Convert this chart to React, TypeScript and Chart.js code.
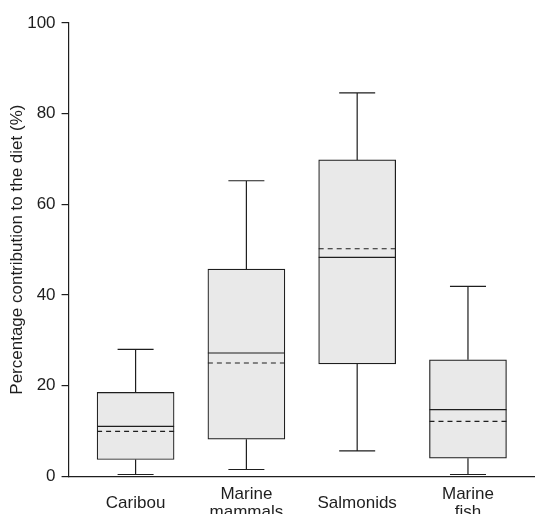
import { useEffect, useRef } from 'react';
import { Chart, registerables } from 'chart.js';

Chart.register(...registerables);

const categories: string[][] = [['Caribou'], ['Marine', 'mammals'], ['Salmonids'], ['Marine', 'fish']];
const whiskerLow = [0.4, 1.5, 5.6, 0.4];
const q1 = [3.7, 8.2, 24.8, 4.0];
const median = [11.0, 27.2, 48.3, 14.7];
const mean = [9.9, 25.0, 50.2, 12.1];
const q3 = [18.5, 45.7, 69.8, 25.7];
const whiskerHigh = [28.0, 65.2, 84.6, 41.9];
const yTickValues = [0, 20, 40, 60, 80, 100];
const yTitle = 'Percentage contribution to the diet (%)';

const INK = '#1e1e1e';
const FONT = "'Liberation Sans', Arial, Helvetica, sans-serif";
const BOX_W = 77;
const CAP_W = 36;

const boxExtras = {
  id: 'boxExtras',
  afterDatasetsDraw(chart: any) {
    const xs = chart.scales.x;
    const ys = chart.scales.y;
    const ctx = chart.ctx;
    ctx.save();
    ctx.strokeStyle = INK;
    ctx.lineWidth = 1.2;
    categories.forEach((_, i) => {
      const cx = xs.getPixelForValue(i + 1);
      const yLo = ys.getPixelForValue(whiskerLow[i]);
      const yQ1 = ys.getPixelForValue(q1[i]);
      const yQ3 = ys.getPixelForValue(q3[i]);
      const yHi = ys.getPixelForValue(whiskerHigh[i]);
      const yMed = ys.getPixelForValue(median[i]);
      const yMean = ys.getPixelForValue(mean[i]);
      ctx.setLineDash([]);
      ctx.beginPath();
      ctx.moveTo(cx, yQ3);
      ctx.lineTo(cx, yHi);
      ctx.moveTo(cx - CAP_W / 2, yHi);
      ctx.lineTo(cx + CAP_W / 2, yHi);
      ctx.moveTo(cx, yQ1);
      ctx.lineTo(cx, yLo);
      ctx.moveTo(cx - CAP_W / 2, yLo);
      ctx.lineTo(cx + CAP_W / 2, yLo);
      ctx.moveTo(cx - BOX_W / 2, yMed);
      ctx.lineTo(cx + BOX_W / 2, yMed);
      ctx.stroke();
      ctx.setLineDash([5, 4]);
      ctx.beginPath();
      ctx.moveTo(cx - BOX_W / 2, yMean);
      ctx.lineTo(cx + BOX_W / 2, yMean);
      ctx.stroke();
    });
    ctx.restore();
  },
};

export default function App() {
  const ref = useRef<HTMLCanvasElement>(null);
  useEffect(() => {
    document.body.style.margin = '0';
    const canvas = ref.current!;
    const chart = new Chart(canvas, {
      type: 'bar',
      data: {
        datasets: [
          {
            data: categories.map((_, i) => ({ x: i + 1, y: [q1[i], q3[i]] })) as any,
            backgroundColor: '#e9e9e9',
            borderColor: INK,
            borderWidth: 1.2,
            borderSkipped: false,
            barThickness: BOX_W,
          },
        ],
      },
      options: {
        responsive: false,
        animation: false,
        events: [],
        layout: { padding: { top: 23, right: 0, bottom: 0, left: 0 } },
        plugins: { legend: { display: false }, tooltip: { enabled: false } },
        scales: {
          x: {
            type: 'linear',
            position: 'bottom',
            offset: false,
            min: 0.395,
            max: 4.605,
            grid: { display: false, drawTicks: false, offset: false },
            border: { display: true, color: INK, width: 1.2 },
            afterBuildTicks: (scale: any) => {
              scale.ticks = categories.map((_, i) => ({ value: i + 1 }));
            },
            ticks: {
              autoSkip: false,
              maxRotation: 0,
              crossAlign: 'center',
              padding: 18,
              color: INK,
              font: { family: FONT, size: 17, lineHeight: 1.05 },
              callback: (v: any) => categories[Math.round(Number(v)) - 1] ?? '',
            },
          },
          y: {
            min: 0,
            max: 100,
            afterBuildTicks: (scale: any) => {
              scale.ticks = yTickValues.map((v) => ({ value: v }));
            },
            grid: { display: true, drawOnChartArea: false, drawTicks: true, tickLength: 7, color: INK, lineWidth: 1.2 },
            border: { display: true, color: INK, width: 1.2 },
            ticks: {
              padding: 6,
              color: INK,
              font: { family: FONT, size: 17 },
            },
            title: {
              display: true,
              text: yTitle,
              color: INK,
              padding: { top: 7, bottom: -6.2 },
              font: { family: FONT, size: 17 },
            },
          },
        },
      },
      plugins: [boxExtras],
    } as any);
    return () => chart.destroy();
  }, []);
  return (
    <div style={{ width: 535, height: 514, overflow: 'hidden' }}>
      <canvas ref={ref} width={535} height={548} style={{ display: 'block' }} />
    </div>
  );
}
